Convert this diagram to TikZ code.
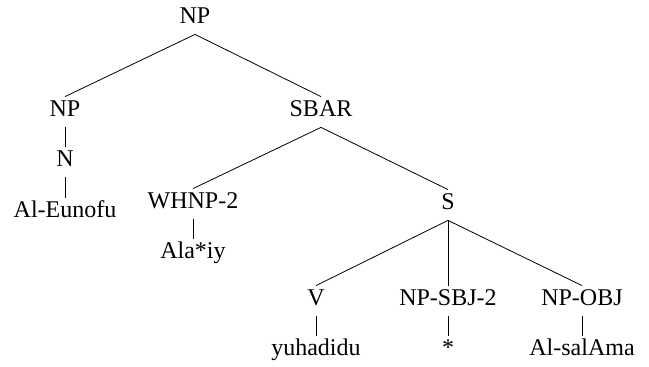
\documentclass[tikz,border=0pt]{standalone}
\usepackage{fontspec}
\setmainfont{Liberation Serif}
\begin{document}
\begin{tikzpicture}[x=0.5pt, y=-0.5pt]
	\tikzstyle{cat} = [inner sep=2.5pt, text height=7.5pt, text depth=2.5pt, anchor=base, font=\fontsize{12}{14}\selectfont]
	\tikzstyle{word} = [cat]
	\tikzstyle{edge} = [thin]
\useasboundingbox (0,0) rectangle (649,367);

%phrase labels
\foreach \name/\x/\y/\lab in {np_0/195/24/NP, np_1/65/117/NP, sbar/321/117/SBAR, n/65/167/N, whnp/193/209/WHNP-2, s/448/210/S, v/316/306/V, np_sbj/448/306/NP-SBJ-2, np_obj/582/306/NP-OBJ}
  	\node[cat] (\name) at (\x, \y) {\lab};

%words
\foreach \name/\x/\y/\lab in {al_eunofu/65/218/Al-Eunofu, alaxiy/193/259/Ala*iy, yuhadidu/316/356/yuhadidu, star/448/356/*, al_salama/582/356/Al-salAma}
  	\node[word] (\name) at (\x, \y) {\lab};

\foreach \from/\to in {np_0/np_1, np_0/sbar, np_1/n, n/al_eunofu, sbar/whnp, sbar/s, whnp/alaxiy, s/v, s/np_sbj, s/np_obj, v/yuhadidu, np_sbj/star, np_obj/al_salama}
	\draw[edge] (\from.south) -- (\to.north);
\end{tikzpicture}
\end{document}
